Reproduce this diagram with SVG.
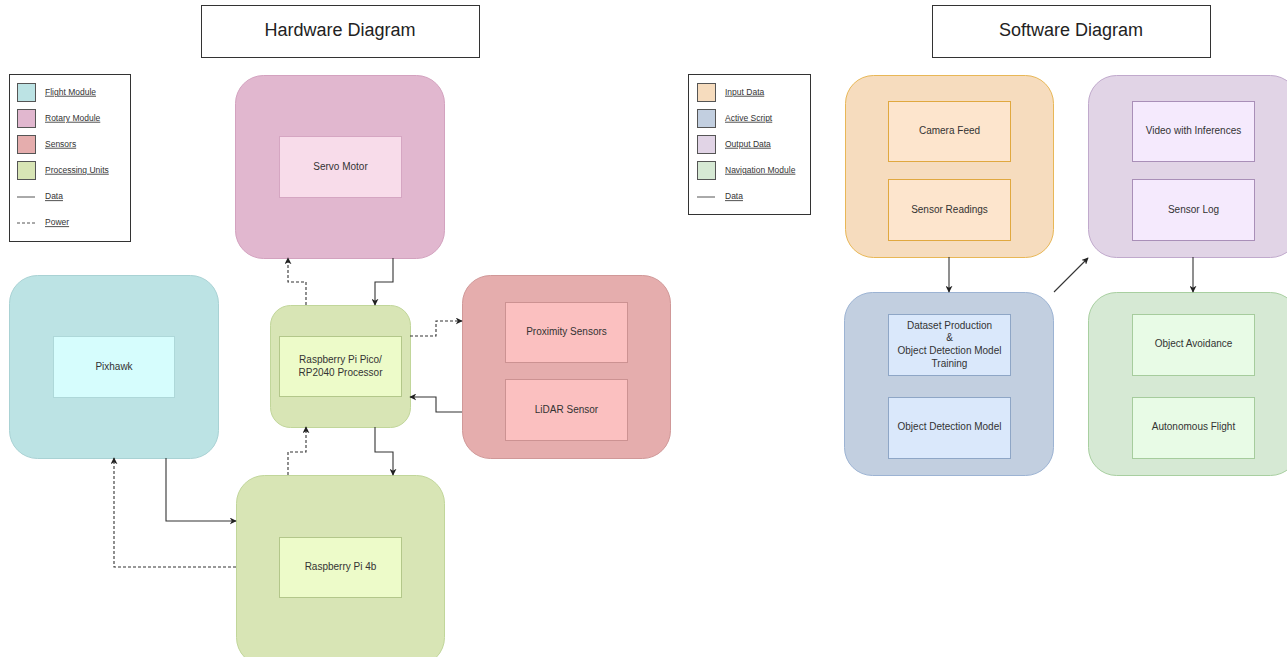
<svg xmlns="http://www.w3.org/2000/svg" width="1287" height="657" viewBox="0 0 1287 657">
<defs>
<marker id="ah" viewBox="0 0 10 10" refX="9" refY="5" markerWidth="7" markerHeight="7" orient="auto" markerUnits="userSpaceOnUse">
<path d="M0,0 L10,5 L0,10 L3,5 Z" fill="#222"/>
</marker>
</defs>
<style>
text{font-family:"Liberation Sans",Arial,sans-serif;fill:#333}
.t{font-size:10px;text-anchor:middle;dominant-baseline:middle}
.title{font-size:18px;text-anchor:middle;dominant-baseline:middle;fill:#222}
.lg{font-size:8.5px;text-decoration:underline;dominant-baseline:middle}
.box{fill:#fff;stroke:#333;stroke-width:1}
.c{fill:none;stroke:#333;stroke-width:1.1}
.d{stroke-dasharray:3,2}
.fo{fill:#bce3e4;stroke:#a9d2d4}
.fi{fill:#d6fdfd;stroke:#aed8d9}
.ro{fill:#e1b7cf;stroke:#d3a2bf}
.ri{fill:#f8dcea;stroke:#d5a6c2}
.so{fill:#e5adad;stroke:#d09898}
.si{fill:#fbc0c0;stroke:#cc9292}
.po{fill:#d8e5b5;stroke:#c1d69a}
.pi{fill:#edfbc9;stroke:#b3c78a}
.io{fill:#f6dcbe;stroke:#e8b756}
.ii{fill:#fde5cd;stroke:#e0a83f}
.ao{fill:#c2cfe0;stroke:#9cb3d3}
.ai{fill:#dae8fb;stroke:#8ea6c6}
.oo{fill:#e1d4e6;stroke:#c0a9cc}
.oi{fill:#f5eafd;stroke:#a98fb8}
.no{fill:#d6e9d4;stroke:#a8cfa0}
.ni{fill:#e8fbe6;stroke:#a6cc9d}
</style>
<rect width="1287" height="657" fill="#fff"/>

<g id="hw-title"><rect class="box" x="201.5" y="5.5" width="278" height="52"/><text class="title" x="340" y="31">Hardware Diagram</text></g>
<g id="sw-title"><rect class="box" x="932.5" y="5.5" width="278" height="52"/><text class="title" x="1071" y="31">Software Diagram</text></g>

<g id="hw-legend">
<rect class="box" x="9.5" y="74.5" width="121" height="167"/>
<rect class="fo" x="17.5" y="83.5" width="18" height="18" style="stroke:#555"/>
<text class="lg" x="45" y="92.5">Flight Module</text>
<rect class="ro" x="17.5" y="109.5" width="18" height="18" style="stroke:#555"/>
<text class="lg" x="45" y="118.5">Rotary Module</text>
<rect class="so" x="17.5" y="135.5" width="18" height="18" style="stroke:#555"/>
<text class="lg" x="45" y="144.5">Sensors</text>
<rect class="po" x="17.5" y="161.5" width="18" height="18" style="stroke:#555"/>
<text class="lg" x="45" y="170.5">Processing Units</text>
<line x1="17" y1="197" x2="35" y2="197" stroke="#555"/>
<text class="lg" x="45" y="197">Data</text>
<line x1="17" y1="223" x2="35" y2="223" stroke="#555" stroke-dasharray="3,2"/>
<text class="lg" x="45" y="223">Power</text>
</g>

<g id="sw-legend">
<rect class="box" x="688.5" y="74.5" width="122" height="140"/>
<rect class="io" x="697.5" y="83.5" width="18" height="18" style="stroke:#555"/>
<text class="lg" x="725" y="92.5">Input Data</text>
<rect class="ao" x="697.5" y="109.5" width="18" height="18" style="stroke:#555"/>
<text class="lg" x="725" y="118.5">Active Script</text>
<rect class="oo" x="697.5" y="135.5" width="18" height="18" style="stroke:#555"/>
<text class="lg" x="725" y="144.5">Output Data</text>
<rect class="no" x="697.5" y="161.5" width="18" height="18" style="stroke:#555"/>
<text class="lg" x="725" y="170.5">Navigation Module</text>
<line x1="697" y1="197" x2="715" y2="197" stroke="#555"/>
<text class="lg" x="725" y="197">Data</text>
</g>

<g id="servo">
<rect class="ro" x="235.5" y="75.5" width="209" height="183" rx="28"/>
<rect class="ri" x="279.5" y="136.5" width="122" height="61"/>
<text class="t" x="340.5" y="167">Servo Motor</text>
</g>
<g id="pixhawk">
<rect class="fo" x="9.5" y="275.5" width="209" height="183" rx="28"/>
<rect class="fi" x="53.5" y="336.5" width="121" height="61"/>
<text class="t" x="114" y="367">Pixhawk</text>
</g>
<g id="sensors">
<rect class="so" x="462.5" y="275.5" width="208" height="183" rx="28"/>
<rect class="si" x="505.5" y="302.5" width="122" height="60"/>
<text class="t" x="566.5" y="332.5">Proximity Sensors</text>
<rect class="si" x="505.5" y="379.5" width="122" height="61"/>
<text class="t" x="566.5" y="410">LiDAR Sensor</text>
</g>
<g id="pico">
<rect class="po" x="270.5" y="305.5" width="140" height="122" rx="20"/>
<rect class="pi" x="279.5" y="336.5" width="122" height="60"/>
<text class="t" x="340.5" y="360">Raspberry Pi Pico/</text>
<text class="t" x="340.5" y="373.5">RP2040 Processor</text>
</g>
<g id="rpi4b">
<rect class="po" x="236.5" y="475.5" width="208" height="190" rx="28"/>
<rect class="pi" x="279.5" y="537.5" width="122" height="60"/>
<text class="t" x="340.5" y="567.5">Raspberry Pi 4b</text>
</g>

<g id="input">
<rect class="io" x="845.5" y="75.5" width="208" height="182" rx="28"/>
<rect class="ii" x="888.5" y="101.5" width="122" height="60"/>
<text class="t" x="949.5" y="131.5">Camera Feed</text>
<rect class="ii" x="888.5" y="179.5" width="122" height="61"/>
<text class="t" x="949.5" y="210">Sensor Readings</text>
</g>
<g id="output">
<rect class="oo" x="1088.5" y="75.5" width="210" height="182" rx="28"/>
<rect class="oi" x="1132.5" y="101.5" width="122" height="60"/>
<text class="t" x="1193.5" y="131.5">Video with Inferences</text>
<rect class="oi" x="1132.5" y="179.5" width="122" height="61"/>
<text class="t" x="1193.5" y="210">Sensor Log</text>
</g>
<g id="active">
<rect class="ao" x="844.5" y="292.5" width="209" height="183" rx="28"/>
<rect class="ai" x="888.5" y="314.5" width="122" height="61"/>
<text class="t" x="949.5" y="326">Dataset Production</text>
<text class="t" x="949.5" y="338.5">&amp;</text>
<text class="t" x="949.5" y="351.5">Object Detection Model</text>
<text class="t" x="949.5" y="364">Training</text>
<rect class="ai" x="888.5" y="397.5" width="122" height="61"/>
<text class="t" x="949.5" y="427.5">Object Detection Model</text>
</g>
<g id="nav">
<rect class="no" x="1088.5" y="292.5" width="210" height="183" rx="28"/>
<rect class="ni" x="1132.5" y="314.5" width="122" height="61"/>
<text class="t" x="1193.5" y="344.5">Object Avoidance</text>
<rect class="ni" x="1132.5" y="397.5" width="122" height="61"/>
<text class="t" x="1193.5" y="427.5">Autonomous Flight</text>
</g>

<g id="connectors">
<path class="c" d="M393,258 V282 H375 V305" marker-end="url(#ah)"/>
<path class="c d" d="M306,305 V282 H288 V258" marker-end="url(#ah)"/>
<path class="c d" d="M410,336 H436 V321 H462" marker-end="url(#ah)"/>
<path class="c" d="M462,412 H436 V397 H410" marker-end="url(#ah)"/>
<path class="c" d="M375,427 V452 H393 V475" marker-end="url(#ah)"/>
<path class="c d" d="M288,475 V452 H306 V427" marker-end="url(#ah)"/>
<path class="c" d="M166,458 V521 H236" marker-end="url(#ah)"/>
<path class="c d" d="M236,567 H114 V458" marker-end="url(#ah)"/>
<path class="c" d="M949,257 V292" marker-end="url(#ah)"/>
<path class="c" d="M1054,292 L1088,258" marker-end="url(#ah)"/>
<path class="c" d="M1193,257 V292" marker-end="url(#ah)"/>
</g>
</svg>
